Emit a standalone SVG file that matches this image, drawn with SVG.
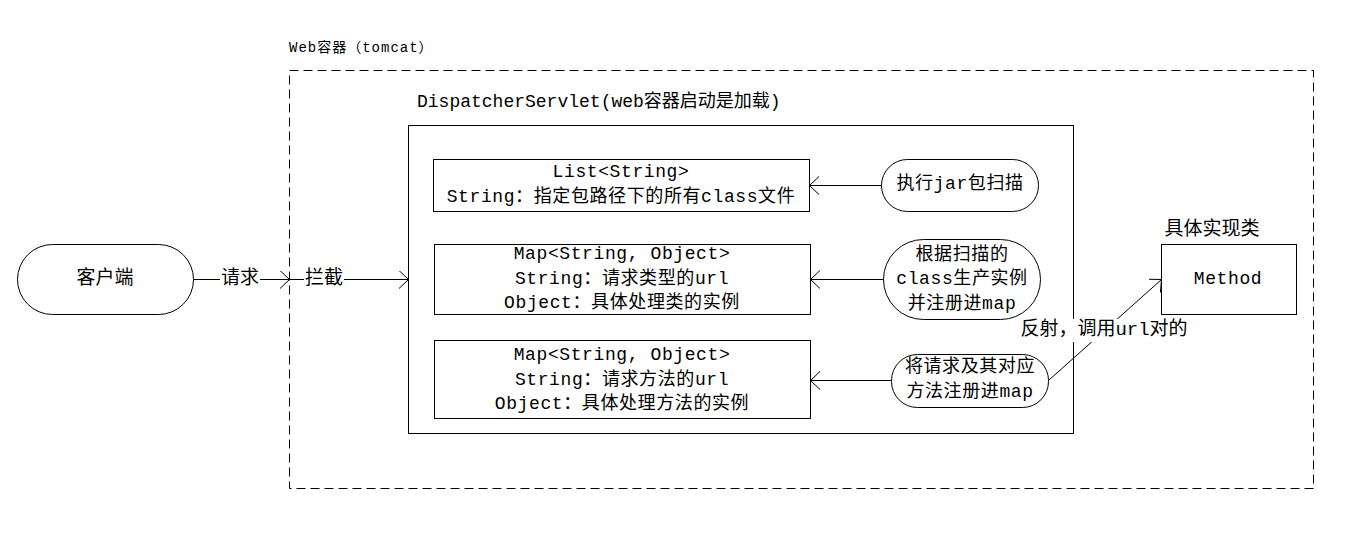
<svg xmlns="http://www.w3.org/2000/svg" width="1355" height="544" viewBox="0 0 1355 544">
<style>
text{font-family:"Liberation Mono","Noto Sans CJK SC",monospace;fill:#000;dominant-baseline:central}
.t18{font-size:18px;text-anchor:middle;letter-spacing:0.6px}
.t19{font-size:19px;text-anchor:middle}
.s{fill:#fff;stroke:#000;stroke-width:1}
.c{fill:none;stroke:#000;stroke-width:1}
</style>
<defs>
<marker id="arr" markerUnits="userSpaceOnUse" markerWidth="12" markerHeight="20" refX="9.5" refY="9" orient="auto" viewBox="0 0 12 20">
<path d="M0,0 L9.5,9 L0,18" fill="none" stroke="#000" stroke-width="1"/>
</marker>
</defs>
<rect width="1355" height="544" fill="#fff"/>
<g id="container">
<rect x="289.5" y="70.5" width="1024" height="418" fill="none" stroke="#000" stroke-dasharray="9 5"/>
<text x="289" y="48" style="font-size:14px;letter-spacing:1px">Web容器（tomcat）</text>
</g>
<g id="dispatcher">
<rect class="s" x="408.5" y="125.5" width="665" height="308"/>
<text x="417" y="102" style="font-size:18px">DispatcherServlet(web容器启动是加载)</text>
</g>
<g id="client">
<rect class="s" x="17.5" y="244.5" width="176" height="70" rx="35" ry="35"/>
<text class="t19" x="105" y="279">客户端</text>
</g>
<g id="list">
<rect class="s" x="433.5" y="159.5" width="376" height="52"/>
<text class="t18" x="621" y="172">List&lt;String&gt;</text>
<text class="t18" x="621" y="197">String：指定包路径下的所有class文件</text>
</g>
<g id="map1">
<rect class="s" x="434.5" y="244.5" width="376" height="70"/>
<text class="t18" x="622" y="254">Map&lt;String, Object&gt;</text>
<text class="t18" x="622" y="279">String：请求类型的url</text>
<text class="t18" x="622" y="303">Object：具体处理类的实例</text>
</g>
<g id="map2">
<rect class="s" x="434.5" y="340.5" width="376" height="78"/>
<text class="t18" x="622" y="355">Map&lt;String, Object&gt;</text>
<text class="t18" x="622" y="380">String：请求方法的url</text>
<text class="t18" x="622" y="404">Object：具体处理方法的实例</text>
</g>
<g id="scan">
<rect class="s" x="881.5" y="159.5" width="157" height="52" rx="26" ry="26"/>
<text class="t18" x="960" y="184">执行jar包扫描</text>
</g>
<g id="instance">
<rect class="s" x="883.5" y="239.5" width="157" height="80" rx="40" ry="40"/>
<text class="t18" x="962" y="255">根据扫描的</text>
<text class="t18" x="962" y="279">class生产实例</text>
<text class="t18" x="962" y="304">并注册进map</text>
</g>
<g id="register">
<rect class="s" x="891.5" y="354.5" width="157" height="53" rx="26" ry="26"/>
<text class="t18" x="970" y="367">将请求及其对应</text>
<text class="t18" x="970" y="392">方法注册进map</text>
</g>
<g id="method">
<rect class="s" x="1161.5" y="244.5" width="135" height="70"/>
<text class="t18" x="1228" y="279">Method</text>
<text class="t19" x="1212" y="230">具体实现类</text>
</g>
<g id="connectors">
<path class="c" d="M193.5,279.5 L289.5,279.5" marker-end="url(#arr)"/>
<rect x="220" y="268" width="40" height="22" fill="#fff"/>
<text class="t19" x="240" y="279">请求</text>
<path class="c" d="M289.5,279.5 L408.5,279.5" marker-end="url(#arr)"/>
<rect x="304" y="268" width="40" height="22" fill="#fff"/>
<text class="t19" x="324" y="279">拦截</text>
<path class="c" d="M881.5,185.5 L809.5,185.5" marker-end="url(#arr)"/>
<path class="c" d="M883.5,279.5 L810.5,279.5" marker-end="url(#arr)"/>
<path class="c" d="M891.5,380.5 L810.5,380.5" marker-end="url(#arr)"/>
<path class="c" d="M1048.5,380.5 L1161.5,279.5" marker-end="url(#arr)"/>
<rect x="1018" y="319" width="172" height="23" fill="#fff"/>
<text class="t19" x="1104" y="330">反射，调用url对的</text>
</g>
</svg>
